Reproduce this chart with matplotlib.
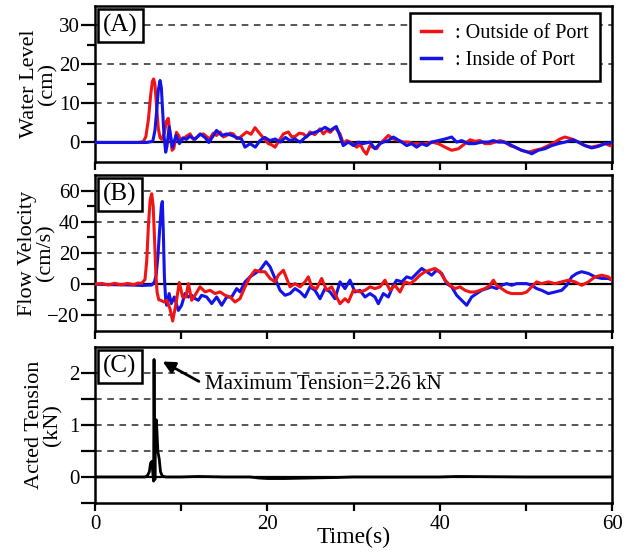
import matplotlib
matplotlib.use("Agg")
import matplotlib.pyplot as plt
from matplotlib.lines import Line2D
from matplotlib.ticker import MultipleLocator, FixedLocator

plt.rcParams['font.family'] = ['Liberation Serif', 'DejaVu Serif']
plt.rcParams['lines.scale_dashes'] = False

# ---------------- (A) water level, cm ----------------
wl_out_t = [0, 2.5, 5.0, 5.6, 5.9, 6.2, 6.45, 6.65, 6.8, 6.95, 7.15, 7.35, 7.55, 7.75,
            8.05, 8.3, 8.5, 8.7, 8.95, 9.15, 9.45, 9.7, 9.95, 10.25, 10.6, 11.03, 11.4,
            11.8, 12.2, 12.57, 12.96, 13.3, 13.73, 14.1, 14.51, 14.9, 15.28, 15.7, 16.05,
            16.45, 16.83, 17.2, 17.6, 18.1, 18.57, 19.15, 19.6, 20.12, 20.5, 20.89, 21.4,
            21.86, 22.44, 22.8, 23.21, 23.7, 24.18, 24.55, 24.95, 25.5, 26.11, 26.5, 26.88,
            27.3, 27.85, 28.43, 28.82, 29.2, 29.59, 30.0, 30.37, 30.8, 31.14, 31.5, 31.91,
            32.3, 32.69, 33.07, 33.5, 34.04, 34.62, 35.2, 35.79, 36.37, 36.94, 37.52, 38.3,
            39.07, 39.84, 40.62, 41.39, 42.17, 42.94, 43.52, 44.1, 44.68, 45.26, 45.84,
            46.42, 47.0, 47.58, 48.16, 48.74, 49.51, 50.29, 51.06, 51.83, 52.61, 53.38,
            53.96, 54.54, 55.32, 56.09, 56.86, 57.64, 58.41, 59.19, 59.77, 60.0]
wl_out_v = [0, 0, 0, 0.2, 1.5, 6.0, 12.0, 15.6, 16.3, 15.0, 9.0, 3.5, 1.2, 0.8,
            2.5, 5.5, 6.2, 2.5, -2.0, -1.5, 2.6, 1.8, 0.6, 0.9, 1.6, 2.2, 0.8,
            1.3, 2.0, 2.2, 1.5, 0.9, 2.4, 1.8, 2.7, 1.4, 1.8, 2.4, 2.2,
            1.0, 1.3, 2.0, 2.7, 2.1, 3.8, 2.2, 1.0, -0.3, -0.6, -1.2, 0.6,
            2.2, 2.7, 1.5, 1.5, 2.4, 2.2, 1.4, 2.7, 2.0, 3.5, 2.2, 3.1,
            2.6, 3.9, 2.2, -0.3, 0.5, 0.1, -0.6, -1.2, -0.5, -2.0, -3.0, -0.8,
            -1.3, -1.6, -0.3, 0.6, 1.8, 0.9, 0.5, 0.1, 0.1, -0.3, -0.3, -0.3,
            0.1, -0.3, -1.2, -2.0, -1.6, -0.3, 0.7, 0.3, 0.5, -0.3, -0.3,
            0.1, 0.5, 0.1, -0.8, -1.2, -2.0, -2.5, -2.0, -1.6, -0.8, 0.1,
            0.9, 1.4, 0.9, 0.1, -0.8, -1.2, -0.8, -0.3, -0.8, -0.9]

wl_in_t = [0, 3.0, 6.0, 6.7, 6.95, 7.15, 7.35, 7.55, 7.7, 7.85, 8.0, 8.2, 8.35, 8.6,
           8.99, 9.4, 9.8, 10.2, 10.6, 11.0, 11.6, 12.2, 12.8, 13.2, 13.6, 14.1, 14.7,
           15.3, 15.9, 16.4, 17.0, 17.4, 18.0, 18.6, 19.15, 19.7, 20.3, 20.9, 21.5,
           22.1, 22.6, 23.2, 23.8, 24.4, 24.95, 25.5, 26.1, 26.7, 27.3, 28.0, 28.4,
           28.8, 29.4, 30.0, 30.6, 31.1, 31.9, 32.49, 33.07, 33.46, 34.04, 34.62, 35.0,
           35.59, 36.17, 36.75, 37.33, 37.91, 38.49, 39.07, 39.84, 40.62, 41.39, 41.97,
           42.55, 43.33, 44.1, 44.87, 45.65, 46.23, 46.81, 47.39, 47.97, 48.74, 49.51,
           50.29, 50.68, 51.45, 52.22, 53.0, 53.77, 54.54, 55.51, 56.09, 56.86, 57.64,
           58.41, 59.19, 59.77, 60.0]
wl_in_v = [0, 0, 0, 0.3, 3.0, 8.0, 13.5, 15.9, 14.0, 8.0, 2.0, -2.5, -1.0, 4.0,
           -1.2, 1.8, -0.3, 1.2, 0.8, 1.6, 0.8, 2.2, 1.2, 0.0, 1.3, 3.1, 1.8,
           2.2, 1.8, 1.3, 0.9, -1.2, -0.3, -1.2, 0.5, 1.3, 0.5, 0.9, 0.1,
           1.3, 0.5, 0.9, 0.1, 1.3, 2.2, 2.6, 3.1, 3.9, 3.1, 4.1, 1.8,
           -0.8, 0.1, -0.8, 0.1, -0.3, 0.1, -1.6, -0.3, 0.1, 0.5, 1.4, 0.9,
           0.1, -0.8, -0.3, -1.2, -0.3, -0.8, 0.1, 0.5, 0.9, 1.4, 0.1,
           0.5, -0.3, -0.3, 0.1, 0.1, 0.5, 0.1, 0.1, -0.3, -1.2, -2.0,
           -2.5, -2.9, -2.0, -1.6, -0.8, -0.3, 0.1, 0.7, 0.1, -0.8, -1.4,
           -1.0, -0.3, -0.2, 0.1]

# ---------------- (B) flow velocity, cm/s ----------------
fv_out_t = [0, 0.8, 1.5, 2.3, 3.0, 3.8, 4.5, 5.0, 5.4, 5.8, 6.0, 6.2, 6.4, 6.58,
            6.75, 6.9, 7.05, 7.2, 7.4, 7.62, 8.01, 8.32, 8.70, 9.01, 9.40, 9.78, 10.17,
            10.56, 10.83, 11.22, 11.6, 12.18, 12.77, 13.35, 13.93, 14.51, 15.09, 15.67,
            16.25, 16.83, 17.41, 17.99, 18.57, 19.15, 19.73, 20.31, 20.89, 21.28, 21.86,
            22.24, 22.63, 23.21, 23.79, 24.37, 24.76, 25.15, 25.72, 26.30, 26.88, 27.46,
            28.04, 28.43, 29.01, 29.40, 29.98, 30.75, 31.33, 31.91, 32.49, 33.07, 33.65,
            34.23, 34.81, 35.39, 35.97, 36.55, 37.13, 37.71, 38.29, 38.87, 39.45, 40.03,
            40.62, 41.2, 41.78, 42.36, 42.94, 43.52, 44.1, 44.68, 45.26, 45.84, 46.23,
            46.61, 47.19, 47.77, 48.35, 48.93, 49.51, 50.09, 50.67, 51.25, 51.83, 52.61,
            53.38, 54.16, 54.93, 55.71, 56.48, 57.26, 58.03, 58.8, 59.58, 60.0]
fv_out_v = [0, 0.5, -0.5, 0.6, -0.4, 0.5, -0.3, 0.8, 0.5, 3.0, 15.0, 38.0, 54.0, 58.0,
            50.0, 30.0, 8.0, -5.0, -10.0, -10.3, -11.4, -10.3, -15.7, -23.6, -12.5, 1.1, -8.2,
            -8.2, 0.4, -10.3, -7.1, -1.7, -4.9, -3.9, -6.0, -4.9, -7.1, -8.2,
            -11.4, -9.2, -1.7, 4.7, 9.0, 8.0, 8.0, 3.7, 1.5, 5.8, 9.0,
            3.7, -1.7, 0.4, -1.7, 1.5, 4.7, -1.7, -2.8, 3.7, -3.9, -1.7,
            -8.2, -12.5, -9.3, -11.4, -3.9, -4.9, -3.9, -1.7, -2.8, -1.7, 2.6,
            -3.9, -0.7, -5.0, 1.5, 0.4, 2.6, 5.8, 8.0, 9.0, 10.1, 8.0,
            2.6, -0.7, -2.8, -1.7, -3.9, -5.0, -5.0, -3.9, -2.8, -0.7, 2.6,
            -0.7, -2.8, -5.0, -6.0, -6.0, -6.0, -5.0, -1.7, 1.5, 0.4, 1.5,
            0.4, 1.5, 2.6, 1.5, -0.7, 1.5, 4.7, 5.8, 4.7, 2.6]

fv_in_t = [0, 2.0, 4.0, 5.5, 6.6, 6.9, 7.1, 7.3, 7.5, 7.7, 7.81, 7.92, 8.05, 8.2,
           8.32, 8.6, 8.85, 9.2, 9.67, 10.05, 10.44, 10.83, 11.22, 11.6, 11.99, 12.37,
           12.96, 13.54, 14.12, 14.7, 15.28, 15.86, 16.44, 16.83, 17.41, 17.99, 18.57,
           19.15, 19.85, 20.31, 20.89, 21.47, 22.05, 22.63, 23.21, 23.79, 24.37, 24.95,
           25.53, 26.11, 26.69, 27.27, 27.85, 28.43, 29.01, 29.59, 30.17, 30.75, 31.33,
           31.91, 32.49, 32.88, 33.46, 34.04, 34.62, 35.0, 35.59, 36.17, 36.75, 37.33,
           37.91, 38.49, 39.07, 39.65, 40.23, 40.81, 41.39, 41.97, 42.55, 43.13, 43.71,
           44.29, 44.87, 45.45, 46.03, 46.61, 47.19, 47.77, 48.35, 48.93, 49.51, 50.09,
           50.67, 51.25, 51.83, 52.61, 53.38, 54.16, 54.74, 55.32, 55.9, 56.48, 57.26,
           58.03, 58.8, 59.58, 60.0]
fv_in_v = [0, -0.3, -0.5, -0.8, -0.5, 1.5, 6.0, 18.0, 35.0, 50.0, 53.0, 35.0, 5.0, -10.0,
           -13.5, -6.0, -12.4, -8.2, -16.8, -13.5, -6.0, -8.2, -7.1, -9.2, -10.3, -7.1,
           -8.2, -12.4, -8.2, -13.5, -8.2, -8.2, -2.8, -4.9, 1.5, 4.7, 6.9,
           9.0, 14.4, 11.2, 3.7, -3.9, -7.1, -6.0, -2.8, -4.9, -8.2, -1.7,
           -3.9, -9.3, -2.8, -4.9, -9.3, 1.5, -2.8, 2.6, -5.0, -3.9, -8.2,
           -6.0, -8.2, -12.5, -6.0, -8.2, -0.7, 2.6, 1.5, 4.7, 3.7, 6.9,
           10.1, 8.0, 5.8, 9.0, 6.9, 0.4, -1.7, -7.1, -10.3, -13.5, -8.2,
           -6.0, -3.9, -2.8, -1.7, -2.8, -0.7, 0.4, -0.7, 0.4, 0.4, 0.4,
           -0.7, -2.8, -3.9, -6.0, -5.0, -3.9, -0.7, 4.7, 6.9, 8.0, 6.9,
           4.7, 3.7, 3.7, 2.6]

# ---------------- (C) acted tension, kN ----------------
tension_t = [0, 5.8, 6.1, 6.3, 6.45, 6.6, 6.72, 6.8, 6.85, 6.9, 6.95, 7.0, 7.1, 7.18,
             7.3, 7.45, 7.6, 7.8, 8.2, 10, 12, 15, 18, 19, 20, 22, 25, 28, 30, 40, 42,
             50, 60]
tension_v = [0, 0, 0.03, 0.1, 0.27, 0.3, 0.05, -0.08, 2.26, 0.6, -0.05, 0.5, 1.1, 0.9,
             0.48, 0.35, 0.1, 0.02, 0.0, 0.0, 0.01, 0.0, 0.0, -0.02, -0.03, -0.03, -0.02,
             -0.01, 0, 0, 0.01, 0, 0]
max_tension = max(tension_v)

RED = '#f01414'
BLUE = '#1414e8'
GRID = '#3a3a3a'
TICK_FS = 15
LABEL_FS = 16

fig = plt.figure(figsize=(6.36, 5.54), dpi=100)
W = 0.8129
ax_a = fig.add_axes([0.1494, 0.7076, W, 0.2816])
ax_b = fig.add_axes([0.1494, 0.4025, W, 0.2816])
ax_c = fig.add_axes([0.1494, 0.0921, W, 0.2816])


def style(ax, ylim, major, minor, dashed, ylabel, labx, tag, show_x):
    ax.set_xlim(0, 60)
    ax.set_ylim(*ylim)
    for y in dashed:
        ax.axhline(y, color=GRID, lw=1.2, ls=(0, (4.8, 4.0)), zorder=1)
    ax.axhline(0, color='black', lw=1.6, zorder=1.5)
    ax.yaxis.set_major_locator(FixedLocator(major))
    ax.yaxis.set_minor_locator(FixedLocator(minor))
    ax.xaxis.set_major_locator(MultipleLocator(20))
    ax.xaxis.set_minor_locator(FixedLocator([10, 30, 50]))
    ax.tick_params(axis='y', which='major', direction='out', length=10, width=1.6,
                   labelsize=TICK_FS, pad=1)
    ax.tick_params(axis='y', which='minor', direction='out', length=6, width=1.6)
    ax.tick_params(axis='x', which='both', direction='out', length=6, width=1.6,
                   labelsize=TICK_FS, labelbottom=show_x, pad=3)
    for sp in ax.spines.values():
        sp.set_linewidth(1.8)
    ax.set_ylabel(ylabel, fontsize=LABEL_FS, linespacing=0.95)
    ax.yaxis.set_label_coords(labx, 0.5)
    ax.text(0.016, 0.95, tag, transform=ax.transAxes, ha='left', va='top',
            fontsize=18, zorder=5,
            bbox=dict(boxstyle='square,pad=0.2', fc='white', ec='black', lw=1.8))


# (A)
style(ax_a, (-5, 35), [0, 10, 20, 30], [5, 15, 25], [10, 20, 30],
      'Water Level\n(cm)', -0.072, '(A)', False)
ax_a.plot(wl_out_t, wl_out_v, color=RED, lw=2.2, zorder=3)
ax_a.plot(wl_in_t, wl_in_v, color=BLUE, lw=2.2, zorder=3)
handles = [Line2D([], [], color=RED, lw=2.5), Line2D([], [], color=BLUE, lw=2.5)]
leg = ax_a.legend(handles, [': Outside of Port', ': Inside of Port'], loc='upper right',
                  bbox_to_anchor=(0.977, 0.955), borderaxespad=0, fontsize=14.5,
                  handlelength=1.0, handletextpad=0.7, borderpad=0.55, labelspacing=0.4,
                  fancybox=False, framealpha=1, edgecolor='black')
leg.get_frame().set_linewidth(1.8)
leg.set_zorder(6)

# (B)
style(ax_b, (-30, 70), [-20, 0, 20, 40, 60], [-10, 10, 30, 50], [-20, 20, 40, 60],
      'Flow Velocity\n(cm/s)', -0.077, '(B)', False)
ax_b.plot(fv_in_t, fv_in_v, color=BLUE, lw=2.2, zorder=3)
ax_b.plot(fv_out_t, fv_out_v, color=RED, lw=2.2, zorder=3)

# (C)
style(ax_c, (-0.5, 2.5), [0, 1, 2], [-0.5, 0.5, 1.5], [0.5, 1.0, 1.5, 2.0],
      'Acted Tension\n(kN)', -0.063, '(C)', True)
ax_c.tick_params(axis='y', which='minor', length=10)
ax_c.plot(tension_t, tension_v, color='black', lw=2.0, zorder=3)
peak_t = tension_t[tension_v.index(max_tension)]
ax_c.annotate(f'Maximum Tension={max_tension:.2f} kN', xy=(peak_t + 1.0, 2.22),
              xytext=(12.8, 1.77), fontsize=15, ha='left', va='center',
              arrowprops=dict(arrowstyle='-|>', color='black', lw=2,
                              mutation_scale=18, shrinkA=3, shrinkB=0,
                              relpos=(0.0, 0.5)))
ax_c.set_xlabel('Time(s)', fontsize=17)
ax_c.xaxis.set_label_coords(0.5, -0.15)

fig.savefig('out.png', dpi=100)
